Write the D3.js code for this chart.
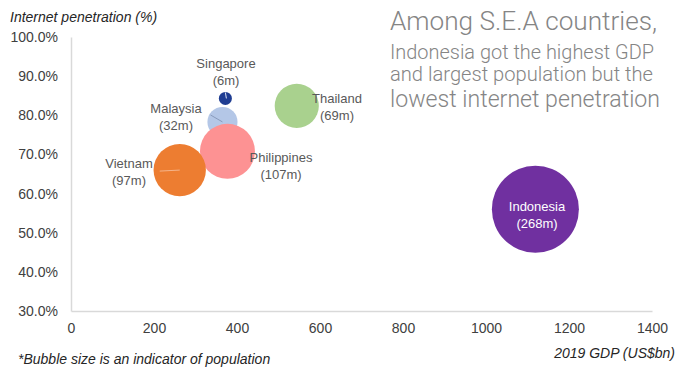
<!DOCTYPE html>
<html><head><meta charset="utf-8">
<script src="https://cdn.jsdelivr.net/npm/d3@7"></script>
<style>body{margin:0;background:#fff}svg{display:block}</style>
</head><body>
<svg id="c" width="700" height="375"></svg>
<script>
const countries = ["Malaysia","Thailand","Philippines","Vietnam","Singapore","Indonesia"];
const gdp = [365, 544, 377, 262, 372, 1119];
const penetration = [78.3, 82.4, 70.8, 66.0, 84.3, 56.0];
const population = [32, 69, 107, 97, 6, 268];
const colors = ["#b4c7e7","#a9d18e","#fd9293","#ed7d31","#1f3d92","#7030a0"];
const xTicks = [0,200,400,600,800,1000,1200,1400];
const yTicks = [30,40,50,60,70,80,90,100];
const titleLines = ["Among S.E.A countries,","Indonesia got the highest GDP","and largest population but the","lowest internet penetration"];

const svg = d3.select("#c");
const x = d3.scaleLinear().domain([0,1400]).range([71,652]);
const y = d3.scaleLinear().domain([30,100]).range([311,37]);
const r = d3.scaleSqrt().domain([0,268]).range([0,43.5]);

// axes
const xAxis = svg.append("g").attr("transform","translate(0,311)")
  .call(d3.axisBottom(x).tickValues(xTicks).tickSize(0).tickPadding(12).tickFormat(d3.format("d")));
const yAxis = svg.append("g").attr("transform","translate(71,0)")
  .call(d3.axisLeft(y).tickValues(yTicks).tickSize(0).tickPadding(13).tickFormat(d=>d.toFixed(1)+"%"));
[xAxis,yAxis].forEach(g=>{
  g.select(".domain").attr("stroke","#d9d9d9").attr("stroke-width",1.5);
  g.selectAll("text").attr("font-family","Liberation Sans, Arial, sans-serif").attr("font-size",14).attr("fill","#404040");
});

// bubbles
const data = countries.map((c,i)=>({c,g:gdp[i],p:penetration[i],pop:population[i],col:colors[i]}));
svg.append("g").selectAll("circle").data(data).join("circle")
  .attr("cx",d=>x(d.g)).attr("cy",d=>y(d.p)).attr("r",d=>r(d.pop))
  .attr("fill",d=>d.col);

// leader lines
const ld = d=>data.find(e=>e.c===d);
const sg = ld("Singapore"), my = ld("Malaysia"), vn = ld("Vietnam");
svg.append("line").attr("x1",x(sg.g)).attr("y1",y(sg.p)-6).attr("x2",x(sg.g)+1).attr("y2",y(sg.p)).attr("stroke","#dfe6f5").attr("stroke-width",1);
svg.append("line").attr("x1",x(my.g)-12).attr("y1",y(my.p)-7).attr("x2",x(my.g)).attr("y2",y(my.p)).attr("stroke","#7d8fb0").attr("stroke-width",0.8);
svg.append("line").attr("x1",x(vn.g)-20).attr("y1",y(vn.p)+1).attr("x2",x(vn.g)).attr("y2",y(vn.p)).attr("stroke","#f5b48a").attr("stroke-width",1);

// labels
const labelPos = {
  "Singapore":[226,68],"Malaysia":[176,113],"Thailand":[337,103],
  "Philippines":[281,162],"Vietnam":[129,168],"Indonesia":[537,211]
};
const lg = svg.append("g").attr("font-family","Liberation Sans, Arial, sans-serif").attr("font-size",13).attr("text-anchor","middle");
data.forEach(d=>{
  const [lx,ly] = labelPos[d.c];
  const fill = d.c==="Indonesia" ? "#ffffff" : "#595959";
  lg.append("text").attr("x",lx).attr("y",ly).attr("fill",fill).text(d.c);
  lg.append("text").attr("x",lx).attr("y",ly+16.5).attr("fill",fill).text("("+d.pop+"m)");
});

// axis titles
svg.append("text").attr("x",10).attr("y",22).attr("font-family","Liberation Sans, Arial, sans-serif")
  .attr("font-style","italic").attr("font-size",14).attr("fill","#262626").text("Internet penetration (%)");
svg.append("text").attr("x",675).attr("y",358).attr("text-anchor","end").attr("font-family","Liberation Sans, Arial, sans-serif")
  .attr("font-style","italic").attr("font-size",14).attr("fill","#262626").text("2019 GDP (US$bn)");
svg.append("text").attr("x",18).attr("y",364).attr("font-family","Liberation Sans, Arial, sans-serif")
  .attr("font-style","italic").attr("font-size",14).attr("fill","#262626").text("*Bubble size is an indicator of population");

// title block
const tSizes = [25,21,21,23];
const tBase = [30,59,81,107];
const tWidths = [267,264,263,270];
const tg = svg.append("g").attr("font-family","Roboto, sans-serif").attr("font-weight",300).attr("fill","#858585");
titleLines.forEach((t,i)=>{
  tg.append("text").attr("x",390).attr("y",tBase[i]).attr("font-size",tSizes[i])
    .attr("textLength",tWidths[i]).attr("lengthAdjust","spacingAndGlyphs").text(t);
});
</script>
</body></html>
